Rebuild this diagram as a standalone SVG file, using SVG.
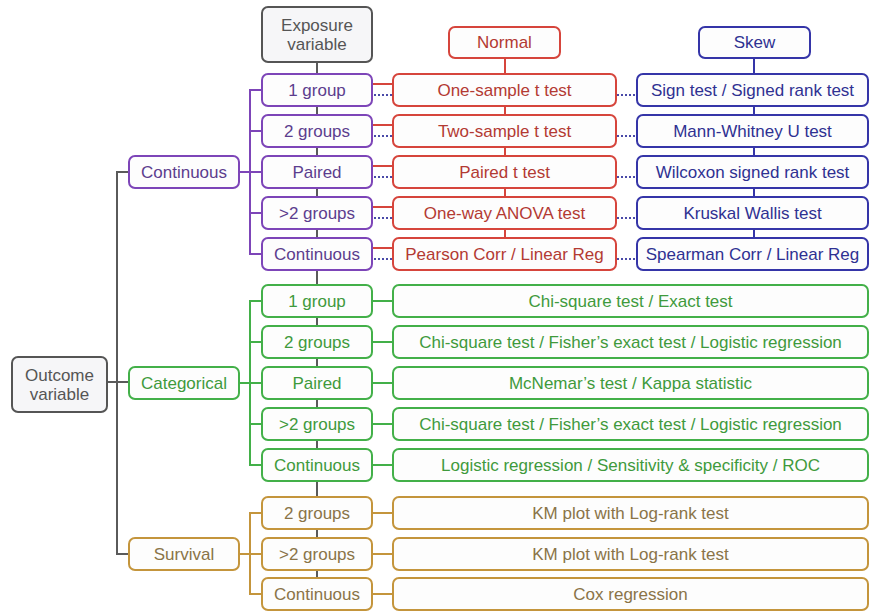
<svg xmlns="http://www.w3.org/2000/svg" width="870" height="612" viewBox="0 0 870 612">
<style>
text{font-family:"Liberation Sans",Arial,sans-serif;font-size:17px;text-anchor:middle;dominant-baseline:central}
rect{stroke-width:2;rx:6;ry:6;fill:#fdfdfd}
.g rect{stroke:#555;fill:#f6f6f8}.g text{fill:#555}
.p rect{stroke:#7d45b8}.p text{fill:#5c3d8e}
.r rect{stroke:#d6453c}.r text{fill:#b33a33}
.b rect{stroke:#3535a8}.b text{fill:#2f3192}
.gr rect{stroke:#43b049}.gr text{fill:#3f9a3c}
.o rect{stroke:#c4953c}.o text{fill:#8a7448}
line,path{fill:none;stroke-width:2}
.cg{stroke:#5a5a5a}.cp{stroke:#7d45b8}.cr{stroke:#d6453c}.cb{stroke:#3535a8}.cgr{stroke:#43b049}.co{stroke:#c4953c}
.dot{stroke:#4a4aa8;stroke-dasharray:2 2}
</style>
<g id="connectors">
<path class="cg" d="M129,172 H117 V554 H129 M107,382 H129"/>
<line class="cg" x1="317" y1="62" x2="317" y2="578"/>
<path class="cp" d="M239,172 H250 M262,90 H250 V254 H262 M250,131 H262 M250,172 H262 M250,213 H262"/>
<path class="cgr" d="M239,383 H250 M262,301 H250 V465 H262 M250,342 H262 M250,383 H262 M250,424 H262"/>
<path class="cgr" d="M372,301 H393 M372,342 H393 M372,383 H393 M372,424 H393 M372,465 H393"/>
<path class="co" d="M239,554 H250 M262,513 H250 V594 H262 M250,554 H262"/>
<path class="co" d="M372,513 H393 M372,554 H393 M372,594 H393"/>
<line class="cr" x1="505" y1="58" x2="505" y2="238"/>
<line class="cb" x1="754" y1="58" x2="754" y2="238"/>
<path class="cr" d="M372,84 H393 M372,125 H393 M372,166 H393 M372,207 H393 M372,248 H393"/>
<path class="dot" d="M374,95 H393 M374,136 H393 M374,177 H393 M374,218 H393 M374,259 H393"/>
<path class="dot" d="M617,95 H637 M617,136 H637 M617,177 H637 M617,218 H637 M617,259 H637"/>
</g>
<g id="exposure" class="g"><rect x="262" y="7" width="110" height="55"/><text x="317" y="25">Exposure</text><text x="317" y="44">variable</text></g>
<g id="outcome" class="g"><rect x="12" y="357" width="95" height="55"/><text x="59.5" y="375">Outcome</text><text x="59.5" y="394">variable</text></g>
<g id="normal" class="r"><rect x="449" y="27" width="111" height="31"/><text x="504.5" y="42.5">Normal</text></g>
<g id="skew" class="b"><rect x="699" y="27" width="111" height="31"/><text x="754.5" y="42.5">Skew</text></g>
<g id="continuous" class="p"><rect x="129" y="156" width="110" height="32"/><text x="184" y="172">Continuous</text></g>
<g id="categorical" class="gr"><rect x="129" y="367" width="110" height="32"/><text x="184" y="383">Categorical</text></g>
<g id="survival" class="o"><rect x="129" y="538" width="110" height="32"/><text x="184" y="554">Survival</text></g>
<g id="c-1group" class="p"><rect x="262" y="74" width="110" height="32"/><text x="317" y="90">1 group</text></g>
<g id="c-2groups" class="p"><rect x="262" y="115" width="110" height="32"/><text x="317" y="131">2 groups</text></g>
<g id="c-paired" class="p"><rect x="262" y="156" width="110" height="32"/><text x="317" y="172">Paired</text></g>
<g id="c-gt2" class="p"><rect x="262" y="197" width="110" height="32"/><text x="317" y="213">&gt;2 groups</text></g>
<g id="c-cont" class="p"><rect x="262" y="238" width="110" height="32"/><text x="317" y="254">Continuous</text></g>
<g id="n1" class="r"><rect x="393" y="74" width="223" height="32"/><text x="504.5" y="90">One-sample t test</text></g>
<g id="n2" class="r"><rect x="393" y="115" width="223" height="32"/><text x="504.5" y="131">Two-sample t test</text></g>
<g id="n3" class="r"><rect x="393" y="156" width="223" height="32"/><text x="504.5" y="172">Paired t test</text></g>
<g id="n4" class="r"><rect x="393" y="197" width="223" height="32"/><text x="504.5" y="213">One-way ANOVA test</text></g>
<g id="n5" class="r"><rect x="393" y="238" width="223" height="32"/><text x="504.5" y="254">Pearson Corr / Linear Reg</text></g>
<g id="s1" class="b"><rect x="637" y="74" width="231" height="32"/><text x="752.5" y="90">Sign test / Signed rank test</text></g>
<g id="s2" class="b"><rect x="637" y="115" width="231" height="32"/><text x="752.5" y="131">Mann-Whitney U test</text></g>
<g id="s3" class="b"><rect x="637" y="156" width="231" height="32"/><text x="752.5" y="172">Wilcoxon signed rank test</text></g>
<g id="s4" class="b"><rect x="637" y="197" width="231" height="32"/><text x="752.5" y="213">Kruskal Wallis test</text></g>
<g id="s5" class="b"><rect x="637" y="238" width="231" height="32"/><text x="752.5" y="254">Spearman Corr / Linear Reg</text></g>
<g id="k-1group" class="gr"><rect x="262" y="285" width="110" height="32"/><text x="317" y="301">1 group</text></g>
<g id="k-2groups" class="gr"><rect x="262" y="326" width="110" height="32"/><text x="317" y="342">2 groups</text></g>
<g id="k-paired" class="gr"><rect x="262" y="367" width="110" height="32"/><text x="317" y="383">Paired</text></g>
<g id="k-gt2" class="gr"><rect x="262" y="408" width="110" height="32"/><text x="317" y="424">&gt;2 groups</text></g>
<g id="k-cont" class="gr"><rect x="262" y="449" width="110" height="32"/><text x="317" y="465">Continuous</text></g>
<g id="t1" class="gr"><rect x="393" y="285" width="475" height="32"/><text x="630.5" y="301">Chi-square test / Exact test</text></g>
<g id="t2" class="gr"><rect x="393" y="326" width="475" height="32"/><text x="630.5" y="342">Chi-square test / Fisher’s exact test / Logistic regression</text></g>
<g id="t3" class="gr"><rect x="393" y="367" width="475" height="32"/><text x="630.5" y="383">McNemar’s test / Kappa statistic</text></g>
<g id="t4" class="gr"><rect x="393" y="408" width="475" height="32"/><text x="630.5" y="424">Chi-square test / Fisher’s exact test / Logistic regression</text></g>
<g id="t5" class="gr"><rect x="393" y="449" width="475" height="32"/><text x="630.5" y="465">Logistic regression / Sensitivity &amp; specificity / ROC</text></g>
<g id="v-2groups" class="o"><rect x="262" y="497" width="110" height="32"/><text x="317" y="513">2 groups</text></g>
<g id="v-gt2" class="o"><rect x="262" y="538" width="110" height="32"/><text x="317" y="554">&gt;2 groups</text></g>
<g id="v-cont" class="o"><rect x="262" y="578" width="110" height="32"/><text x="317" y="594">Continuous</text></g>
<g id="u1" class="o"><rect x="393" y="497" width="475" height="32"/><text x="630.5" y="513">KM plot with Log-rank test</text></g>
<g id="u2" class="o"><rect x="393" y="538" width="475" height="32"/><text x="630.5" y="554">KM plot with Log-rank test</text></g>
<g id="u3" class="o"><rect x="393" y="578" width="475" height="32"/><text x="630.5" y="594">Cox regression</text></g>
</svg>
